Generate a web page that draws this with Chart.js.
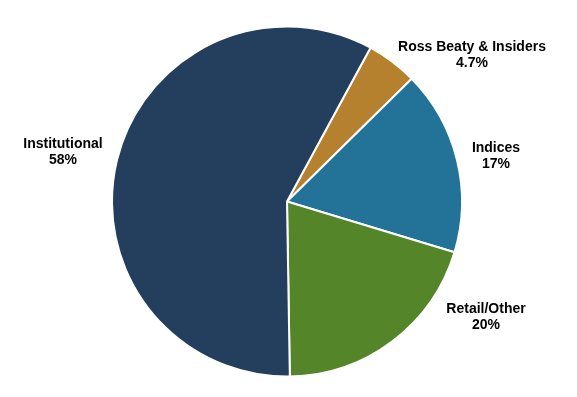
<!DOCTYPE html>
<html>
<head>
<meta charset="utf-8">
<script src="https://cdn.jsdelivr.net/npm/chart.js@4/dist/chart.umd.min.js"></script>
<style>
  html, body { margin: 0; padding: 0; background: #fff; }
  #wrap { width: 577px; height: 397px; position: relative; }
</style>
</head>
<body>
<div id="wrap"><canvas id="pie"></canvas></div>
<script>
// donnees du graphique
const categories = ['Ross Beaty & Insiders', 'Indices', 'Retail/Other', 'Institutional'];
const values = [4.7, 17, 20, 58];
const valueLabels = ['4.7%', '17%', '20%', '58%'];
const colors = ['#B6812E', '#237399', '#548629', '#243F5D'];

// position des etiquettes par rapport au centre du camembert
const labelOffsets = [[185, -146], [209, -45], [199, 116], [-224, -49]];

const outsideLabels = {
    id: 'outsideLabels',
    afterDraw(chart) {
        const ctx = chart.ctx;
        const arc = chart.getDatasetMeta(0).data[0];
        const cx = arc.x, cy = arc.y;
        ctx.save();
        ctx.fillStyle = '#000';
        ctx.font = 'bold 14px "Liberation Sans", Arial, sans-serif';
        ctx.textAlign = 'center';
        ctx.textBaseline = 'middle';
        categories.forEach((cat, i) => {
            const x = cx + labelOffsets[i][0];
            const y = cy + labelOffsets[i][1];
            ctx.fillText(cat, x, y - 8);
            ctx.fillText(valueLabels[i], x, y + 8);
        });
        ctx.restore();
    }
};

new Chart(document.getElementById('pie'), {
    type: 'pie',
    data: {
        labels: categories,
        datasets: [{
            data: values,
            backgroundColor: colors,
            borderColor: '#fff',
            borderWidth: 2
        }]
    },
    options: {
        responsive: true,
        maintainAspectRatio: false,
        animation: false,
        rotation: 28.5,
        layout: { padding: { top: 25, bottom: 19, left: 111, right: 114 } },
        plugins: {
            legend: { display: false },
            tooltip: { enabled: false }
        }
    },
    plugins: [outsideLabels]
});
</script>
</body>
</html>
